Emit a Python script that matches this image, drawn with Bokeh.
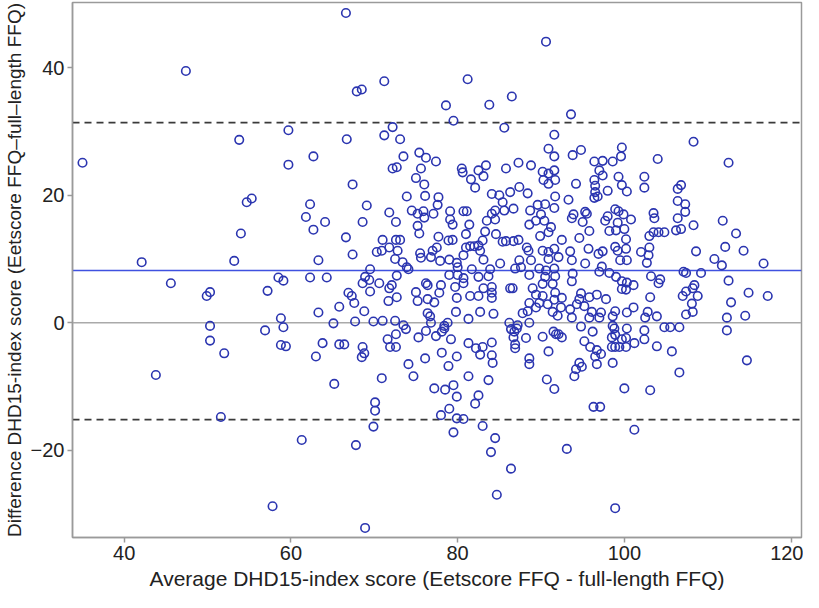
from bokeh.plotting import figure
from bokeh.models import Span, FixedTicker, CustomJSTickFormatter
from bokeh.embed import file_html
from bokeh.resources import INLINE

# Bland-Altman data: average score (x) and difference (y)
avg_top = [47.4, 66.6, 67.9, 68.5, 71.2, 90.6, 81.2, 78.6, 83.8, 86.5, 93.6]
diff_top = [39.5, 48.6, 36.3, 36.6, 37.9, 44.1, 38.2, 34.1, 34.2, 35.5, 32.7]

avg_left = [35.0, 53.8, 59.7, 59.7, 62.7, 54.7, 55.3, 62.3, 61.8, 62.7, 54.0, 42.1,
            53.2, 63.3, 45.6, 50.3, 49.9, 57.2, 58.5, 59.1, 62.3, 58.8, 63.3,
            50.3, 56.9, 59.1, 50.3, 52.0, 58.8, 59.4, 63.0, 43.8, 51.6, 61.3, 57.8]
diff_left = [25.1, 28.7, 30.2, 24.8, 26.1, 18.9, 19.5, 18.6, 16.6, 14.6, 14.0, 9.5,
             9.7, 9.8, 6.2, 4.8, 4.2, 5.0, 7.1, 6.6, 7.1, 0.7, 1.6,
             -0.5, -1.2, -0.7, -2.8, -4.8, -3.5, -3.7, -5.3, -8.2, -14.8, -18.4, -28.8]

avg_mid = [79.5, 85.6, 72.2, 71.2, 73.1, 66.7, 91.6, 73.5, 75.4, 76.2,
           77.4, 72.2, 72.7, 75.6, 80.5, 80.6, 82.5, 83.4, 83.1, 85.8,
           87.3, 88.8, 90.9, 91.6, 90.2, 90.9, 91.6, 67.4, 75.0, 76.0,
           81.6, 82.1, 90.3, 90.9, 91.7, 84.1, 85.0, 86.3, 87.4, 88.4,
           91.7, 69.1, 73.9, 76.1, 77.7, 77.6, 85.4, 84.5, 85.6, 86.7,
           88.7, 89.6, 90.5, 91.6, 71.8, 74.5, 75.2, 75.9, 77.1, 79.1,
           80.7, 81.1, 72.6, 76.0, 79.1, 79.4, 81.4, 83.5, 84.1, 84.5,
           88.6, 89.4, 90.4, 91.2, 90.0, 68.6, 64.1, 75.2, 75.4, 81.0,
           83.3, 84.6, 89.9, 90.9, 66.6, 71.0, 72.6, 73.1, 77.7, 78.9,
           79.4, 83.0, 85.4, 85.8, 86.7, 87.3, 70.3, 70.9, 71.8, 72.8,
           67.4, 75.5, 77.0, 77.5, 81.0, 81.5, 82.0, 82.5, 82.7, 88.3,
           88.5, 90.2, 90.9, 91.6, 72.5, 73.4, 75.6, 76.8, 77.9, 79.0,
           79.9, 80.7, 83.1, 85.1, 87.4, 88.8, 90.9, 69.5, 73.9, 74.1,
           80.0, 81.7, 83.9, 86.9, 87.6, 89.8, 90.6, 91.6, 64.3, 68.9,
           72.7, 79.0, 80.0, 80.7, 82.5, 83.7, 88.6, 90.5, 91.7, 68.6,
           69.4, 70.6, 72.1, 76.2, 76.4, 78.0, 80.7, 83.1, 84.1, 86.3,
           86.6, 89.0, 90.2, 91.4, 66.9, 67.3, 69.5, 71.8, 75.0, 77.8,
           79.7, 84.1, 89.4, 90.2, 91.7, 65.8, 67.6, 71.7, 72.7, 75.2,
           76.4, 77.2, 79.9, 81.5, 82.5, 84.1, 88.6, 89.8, 90.8, 91.6,
           68.8, 76.4, 76.7, 79.8, 82.7, 84.3, 87.8, 88.4, 89.4, 91.4,
           92.0, 65.1, 67.7, 69.9, 71.0, 72.5, 73.5, 76.8, 78.4, 78.8,
           81.3, 86.2, 87.2, 88.6]
diff_mid = [31.7, 30.6, 30.7, 29.4, 28.8, 28.8, 29.5, 26.1, 26.7, 25.9,
            25.3, 24.2, 24.4, 24.2, 24.2, 23.6, 23.9, 24.7, 23.0, 24.2,
            25.1, 24.7, 27.3, 26.1, 23.7, 23.4, 23.9, 21.7, 22.7, 21.7,
            22.5, 21.2, 22.4, 21.8, 22.4, 20.2, 20.0, 20.5, 21.3, 20.3,
            19.8, 18.4, 19.8, 19.9, 19.7, 18.5, 18.9, 17.6, 17.6, 17.9,
            17.6, 18.5, 18.6, 18.0, 17.3, 17.6, 17.1, 17.5, 17.1, 17.5,
            17.5, 17.5, 15.8, 16.5, 16.2, 15.4, 15.4, 16.0, 17.1, 16.2,
            15.4, 16.0, 16.0, 15.0, 17.0, 15.8, 15.8, 15.2, 14.0, 13.9,
            14.3, 13.9, 13.6, 14.2, 13.4, 13.0, 13.0, 13.0, 13.5, 12.9,
            13.0, 12.9, 12.7, 12.8, 12.8, 13.0, 11.1, 11.3, 11.8, 11.3,
            10.7, 10.9, 11.3, 11.8, 11.8, 12.0, 12.0, 12.1, 11.3, 11.8,
            11.3, 11.3, 11.1, 11.6, 10.0, 9.5, 10.2, 10.3, 9.7, 9.9,
            9.4, 10.6, 9.9, 9.3, 9.8, 9.8, 10.0, 8.4, 8.7, 8.4,
            8.7, 8.4, 8.4, 8.5, 8.7, 8.5, 8.2, 8.5, 7.1, 7.2,
            7.4, 7.5, 7.5, 7.0, 7.2, 7.3, 7.5, 7.2, 7.3, 6.2,
            6.7, 6.2, 5.9, 6.2, 5.9, 5.9, 6.2, 5.4, 5.6, 5.4,
            5.4, 5.4, 6.1, 6.1, 4.7, 4.2, 4.9, 5.4, 4.8, 4.7,
            5.6, 4.7, 4.4, 4.2, 4.7, 2.5, 3.1, 3.4, 4.0, 3.4,
            3.7, 3.2, 3.9, 4.2, 4.2, 3.9, 3.1, 3.1, 2.9, 3.6,
            1.8, 1.5, 1.0, 1.7, 1.7, 1.4, 1.5, 1.8, 2.4, 1.7,
            1.1, -0.1, 0.2, 0.2, 0.3, 0.3, -0.4, 0.0, -0.5, 0.0,
            0.6, 0.0, -0.4, 0.0]

avg_right = [108.3, 112.5, 104.0, 94.8, 93.8, 99.7, 99.6, 96.4, 97.4, 98.6,
             97.0, 97.4, 94.2, 96.4, 96.5, 99.3, 102.4, 99.7, 100.3, 102.4,
             98.0, 96.5, 96.4, 96.8, 93.3, 106.8, 106.4, 106.4, 107.3, 107.3,
             93.9, 93.7, 95.3, 95.5, 95.0, 97.7, 98.0, 98.9, 99.3, 99.9,
             100.8, 99.2, 103.5, 103.6, 106.4, 108.3, 111.8, 113.4, 95.8, 98.2,
             99.0, 100.0, 100.2, 94.6, 92.5, 103.0, 103.5, 104.1, 104.8, 106.2,
             106.8, 95.7, 97.4, 96.9, 98.9, 99.2, 100.2, 99.5, 100.3, 93.5,
             93.7, 92.1, 95.3, 102.0, 103.0, 102.9, 102.7, 108.6, 112.1, 114.3,
             110.8, 111.7, 116.7, 93.8, 93.7, 97.0, 97.3, 98.2, 99.0, 99.7,
             100.3, 101.1, 99.7, 100.2, 103.2, 104.3, 104.1, 107.1, 107.4, 109.2,
             112.5, 108.4, 108.2, 107.4, 108.8, 107.0, 103.1, 114.9, 117.2, 92.5,
             94.8, 94.6, 95.8, 96.7, 97.8, 94.3, 95.2, 92.4, 93.5, 96.1,
             97.2, 98.9, 100.3, 101.1, 102.8, 108.1, 108.2, 107.4, 112.8, 112.3,
             114.5, 93.7, 95.8, 97.0, 98.6, 102.5, 103.9, 94.8, 98.6]
diff_right = [28.4, 25.1, 25.7, 27.1, 26.3, 27.5, 26.1, 25.3, 25.4, 25.3,
              23.9, 23.1, 21.8, 22.4, 21.5, 22.9, 22.9, 21.6, 20.6, 21.2,
              20.7, 20.5, 19.6, 19.8, 19.3, 21.6, 21.0, 19.1, 18.6, 17.4,
              17.0, 16.4, 17.4, 17.1, 15.8, 16.0, 16.7, 17.8, 17.5, 17.0,
              16.2, 15.7, 17.2, 16.4, 16.4, 15.3, 16.0, 14.0, 14.4, 14.4,
              14.5, 14.7, 13.1, 13.3, 13.0, 13.6, 14.2, 14.2, 14.2, 14.5,
              14.7, 11.6, 11.2, 10.8, 11.9, 11.3, 11.6, 9.8, 9.8, 11.2,
              9.8, 10.3, 9.3, 11.1, 11.8, 10.6, 9.4, 11.2, 11.9, 11.3,
              10.0, 9.0, 9.3, 7.7, 6.5, 8.0, 8.8, 7.8, 7.2, 6.5,
              6.3, 5.9, 5.3, 5.2, 7.3, 6.8, 6.2, 8.0, 7.8, 7.8,
              6.6, 5.9, 5.4, 4.9, 4.2, 4.2, 4.0, 4.7, 4.2, 3.9,
              4.6, 3.7, 4.0, 4.4, 3.7, 2.9, 2.6, 2.4, 2.1, 1.7,
              1.6, 1.8, 1.6, 2.4, 1.7, 3.0, 1.7, 1.3, 3.2, 0.8,
              1.1, 0.8, 0.8, 0.8, 1.0, 0.8, 1.0, -0.6, -0.5]

avg_low = [63.8, 65.8, 66.4, 68.6, 68.8, 68.5, 71.6, 72.6, 71.9, 72.6,
           73.8, 75.3, 76.2, 77.4, 78.1, 78.4, 79.2, 81.3, 82.2, 83.0,
           84.1, 82.7, 84.1, 84.2, 78.1, 79.9, 76.1, 78.9, 74.1, 74.7,
           70.9, 81.3, 83.7, 65.2, 77.2, 78.5, 79.5, 79.9, 82.5, 82.1,
           70.1, 70.1, 79.0, 78.0, 79.9, 80.7, 69.9, 83.0, 79.5, 84.5,
           67.8, 84.0, 86.4, 84.7, 68.9, 86.4, 86.8, 87.1, 86.7, 86.9,
           86.9, 88.2, 90.2, 91.5, 91.8, 88.6, 88.6, 90.9, 90.7, 91.6,
           92.5, 92.1, 96.2, 98.8, 100.3, 102.4, 104.8, 105.5, 106.6, 112.3,
           95.2, 95.9, 96.7, 97.2, 96.5, 98.5, 98.9, 99.7, 100.2, 98.5,
           98.9, 99.4, 100.2, 101.2, 102.4, 103.9, 105.7, 114.7, 94.6, 94.9,
           94.2, 94.0, 96.7, 98.6, 106.6, 100.0, 103.1, 96.3, 97.1, 101.2,
           93.1, 98.9]
diff_low = [-3.2, -3.4, -3.4, -3.8, -4.8, -5.4, -2.6, -1.8, -3.8, -3.8,
            -1.0, -2.3, -1.3, -2.1, -1.4, -0.9, -2.6, -3.2, -4.0, -3.8,
            -3.1, -5.0, -5.1, -6.3, -4.7, -5.3, -5.6, -6.8, -6.5, -8.4,
            -8.7, -8.4, -9.0, -9.6, -10.3, -10.5, -9.8, -11.6, -11.4, -12.7,
            -12.5, -13.8, -13.5, -14.5, -15.0, -15.1, -16.3, -16.2, -17.2, -18.1,
            -19.2, -20.3, -22.9, -27.0, -32.2, -1.0, -1.4, -0.9, -2.3, -3.4,
            -4.0, -2.4, -2.2, -1.4, -1.8, -5.6, -6.5, -4.5, -8.9, -10.4,
            -2.3, -1.8, -1.4, -0.9, -0.9, -1.2, -0.7, -0.7, -0.7, -1.2,
            -2.9, -3.8, -4.3, -4.9, -5.3, -2.3, -1.9, -2.6, -2.4, -3.8,
            -3.8, -3.8, -3.8, -3.2, -2.6, -3.7, -4.5, -5.9, -6.3, -6.9,
            -7.3, -8.4, -6.5, -6.3, -7.8, -10.3, -10.6, -13.2, -13.2, -16.8,
            -19.8, -29.1]

mean_diff = 8.2
upper_loa = 31.4
lower_loa = -15.2

x_ticks = [40, 60, 80, 100, 120]
y_ticks = [-20, 0, 20, 40]

avg_score = avg_top + avg_left + avg_mid + avg_right + avg_low
diff_score = diff_top + diff_left + diff_mid + diff_right + diff_low

FONT = "Liberation Sans"
GRAY = "#9a9a9a"

p = figure(width=803, height=592, x_range=(33.8, 121.25), y_range=(-33.7, 50.25),
           output_backend="svg", toolbar_location=None,
           min_border_left=10, min_border_right=2, min_border_top=2, min_border_bottom=10)
p.background_fill_color = "white"
p.border_fill_color = "white"
p.grid.visible = False
p.outline_line_color = GRAY
p.outline_line_width = 1.5

for ax in (p.xaxis[0], p.yaxis[0]):
    ax.axis_line_color = GRAY
    ax.axis_line_width = 1.5
    ax.major_tick_line_color = GRAY
    ax.major_tick_line_width = 1.5
    ax.major_tick_in = 0
    ax.major_tick_out = 5
    ax.minor_tick_line_color = None
    ax.major_label_text_font = FONT
    ax.major_label_text_font_size = "20px"
    ax.major_label_text_color = "#222222"
    ax.major_label_standoff = 3
    ax.axis_label_text_font = FONT
    ax.axis_label_text_font_style = "normal"
    ax.axis_label_text_color = "#222222"

p.xaxis.axis_label_text_font_size = "21px"
p.xaxis.axis_label_standoff = 4
p.yaxis.axis_label_text_font_size = "19px"
p.yaxis.axis_label_standoff = 3

p.xaxis.ticker = FixedTicker(ticks=x_ticks)
p.yaxis.ticker = FixedTicker(ticks=y_ticks)
p.yaxis.formatter = CustomJSTickFormatter(
    code="return tick < 0 ? '\u2212' + Math.abs(tick) : String(tick);")
p.xaxis.axis_label = "Average DHD15-index score (Eetscore FFQ - full-length FFQ)"
p.yaxis.axis_label = "Difference DHD15-index score (Eetscore FFQ\u2013full\u2013length FFQ)"

p.add_layout(Span(location=0, dimension="width", line_color="#aaaaaa",
                  line_width=1.5, level="underlay"))
p.add_layout(Span(location=mean_diff, dimension="width", line_color="#3f51e0",
                  line_width=1.3, level="underlay"))
p.add_layout(Span(location=upper_loa, dimension="width", line_color="#3a3a3a",
                  line_width=1.6, line_dash="7 5", level="underlay"))
p.add_layout(Span(location=lower_loa, dimension="width", line_color="#3a3a3a",
                  line_width=1.6, line_dash="7 5", level="underlay"))

p.scatter(avg_score, diff_score, marker="circle", size=8.5, fill_color=None,
          line_color="#2b35b0", line_width=1.6)

open("out.html", "w").write(file_html(p, INLINE))
